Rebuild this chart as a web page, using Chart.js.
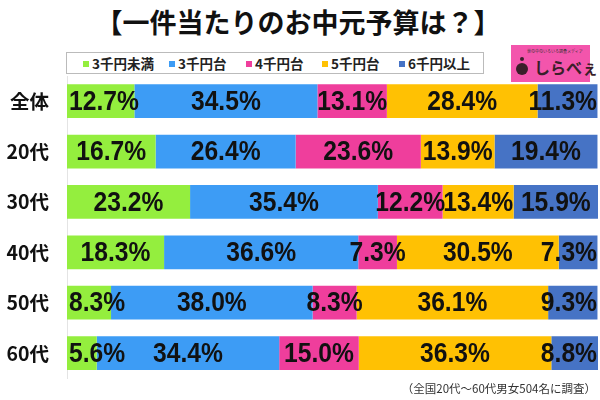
<!DOCTYPE html>
<html lang="ja">
<head>
  <meta charset="UTF-8">
  <title>一件当たりのお中元予算は？</title>
  <script src="https://cdn.jsdelivr.net/npm/chart.js"></script>
  <style>
    body { margin: 0; width: 600px; height: 400px; position: relative; background: #fff; font-family: "Noto Sans CJK JP", sans-serif; overflow: hidden; }
    #title { position: absolute; top: 2px; left: -2px; width: 600px; text-align: center; font-size: 27px; font-weight: bold; color: #111; }
    #legend { position: absolute; left: 66px; top: 52px; width: 416px; height: 20px; border: 1px solid #bbb; font-size: 13.5px; font-weight: bold; color: #222; line-height: 20px; }
    #legend span { position: absolute; top: 0; white-space: nowrap; }
    #legend i { display: inline-block; width: 6px; height: 6px; margin-right: 3px; vertical-align: 2px; }
    #logo { position: absolute; left: 511px; top: 45px; width: 79px; height: 37px; background: #f355ac; }
    #logo .tag { position: absolute; top: 3px; left: 16px; font-size: 4px; color: #333; white-space: nowrap; }
    #logo .name { position: absolute; top: 10px; left: 23px; font-size: 16px; font-weight: bold; color: #3a1f2a; white-space: nowrap; }
    #logo .dot { position: absolute; top: 12px; left: 9px; width: 4px; height: 4px; border-radius: 50%; background: #3a1f2a; }
    #logo .drop { position: absolute; top: 18px; left: 5px; width: 12px; height: 12px; border-radius: 50%; background: #3a1f2a; }
    #note { position: absolute; right: 4px; top: 380px; font-size: 11.5px; color: #333; }
    #wrap { position: absolute; left: 0; top: 0; }
  </style>
</head>
<body>
  <div id="title">【一件当たりのお中元予算は？】</div>
  <div id="legend"></div>
  <div id="logo"><span class="tag">世の中のいろいろ調査メディア</span><span class="dot"></span><span class="drop"></span><span class="name">しらべぇ</span></div>
  <div id="wrap"><canvas id="chart" width="600" height="400"></canvas></div>
  <div id="note">（全国20代～60代男女504名に調査）</div>

  <script>
    // 年代
    const groups = ["全体", "20代", "30代", "40代", "50代", "60代"];
    // 予算の区分
    const budgets = ["3千円未満", "3千円台", "4千円台", "5千円台", "6千円以上"];
    const colors = ["#94ee3e", "#3d9cf5", "#ef3e9c", "#ffc103", "#4673c5"];

    // 区分ごとの割合 (%)
    const under3 = [12.7, 16.7, 23.2, 18.3, 8.3, 5.6];
    const yen3 = [34.5, 26.4, 35.4, 36.6, 38.0, 34.4];
    const yen4 = [13.1, 23.6, 12.2, 7.3, 8.3, 15.0];
    const yen5 = [28.4, 13.9, 13.4, 30.5, 36.1, 36.3];
    const over6 = [11.3, 19.4, 15.9, 7.3, 9.3, 8.8];
    const series = [under3, yen3, yen4, yen5, over6];

    // 凡例
    const legendX = [16, 102, 179, 255, 332];
    const legend = document.getElementById("legend");
    budgets.forEach((b, i) => {
      const s = document.createElement("span");
      s.style.left = legendX[i] + "px";
      s.innerHTML = '<i style="background:' + colors[i] + '"></i>' + b;
      legend.appendChild(s);
    });

    // 棒の中に数値を書く（はみ出す時は端で止める）
    const barLabels = {
      id: "barLabels",
      afterDatasetsDraw(chart) {
        const ctx = chart.ctx;
        const area = chart.chartArea;
        const sx = 0.88;
        ctx.save();
        ctx.font = "bold 28px 'Liberation Sans', Arial, sans-serif";
        ctx.fillStyle = "#111";
        ctx.textAlign = "center";
        ctx.textBaseline = "middle";
        chart.data.datasets.forEach((ds, i) => {
          chart.getDatasetMeta(i).data.forEach((bar, j) => {
            const txt = ds.data[j].toFixed(1) + "%";
            const w = ctx.measureText(txt).width * sx;
            let x = (bar.x + bar.base) / 2;
            x = Math.max(area.left + w / 2 + 2, Math.min(area.right - w / 2 - 1, x));
            ctx.save();
            ctx.translate(x, bar.y + 1);
            ctx.scale(sx, 1);
            ctx.fillText(txt, 0, 0);
            ctx.restore();
          });
        });
        ctx.restore();
      }
    };

    new Chart(document.getElementById("chart"), {
      type: "bar",
      data: {
        labels: groups,
        datasets: series.map((d, i) => ({
          label: budgets[i],
          data: d,
          backgroundColor: colors[i],
          categoryPercentage: 1,
          barPercentage: 0.67
        }))
      },
      options: {
        indexAxis: "y",
        responsive: false,
        animation: false,
        layout: { padding: { top: 76, bottom: 8, right: 2 } },
        plugins: { legend: { display: false }, tooltip: { enabled: false } },
        scales: {
          x: { stacked: true, min: 0, max: 100.1, display: false },
          y: {
            stacked: true,
            grid: { display: false },
            border: { display: true, color: "#e4e4e4" },
            ticks: { color: "#111", font: { size: 19.5, weight: "bold", family: "'Noto Sans CJK JP', sans-serif" }, padding: 10 },
            afterFit(scale) { scale.width = 67; }
          }
        }
      },
      plugins: [barLabels]
    });
  </script>
</body>
</html>
